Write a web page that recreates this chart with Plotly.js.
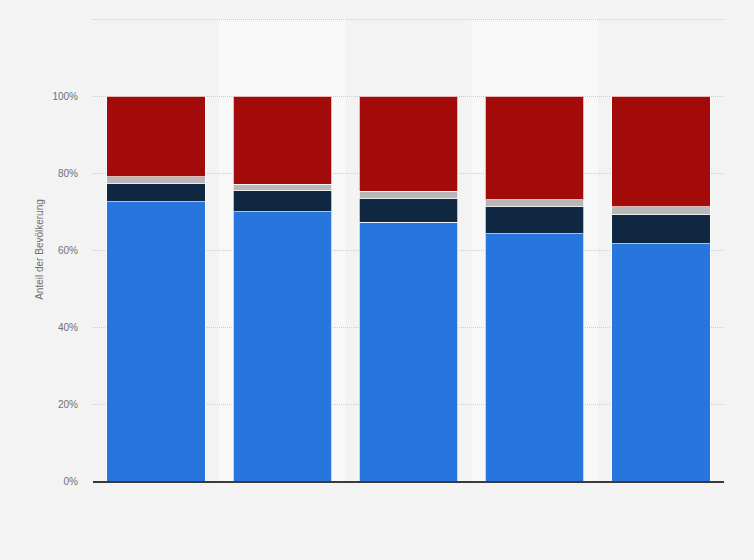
<!DOCTYPE html>
<html>
<head>
<meta charset="utf-8">
<script src="https://cdn.plot.ly/plotly-3.0.1.min.js"></script>
<style>html,body{margin:0;padding:0;background:#f3f3f3;}#chart{width:754px;height:560px;}</style>
</head>
<body>
<div id="chart"></div>
<script>
const categories = ['1', '2', '3', '4', '5'];
const seriesBlue = [72.6, 69.9, 67.2, 64.3, 61.7];
const seriesNavy = [4.7, 5.6, 6.2, 7.0, 7.6];
const seriesGray = [1.7, 1.6, 1.9, 1.8, 2.0];
const seriesRed = [21.0, 22.9, 24.7, 26.9, 28.7];
const tickValues = [0, 20, 40, 60, 80, 100, 120];
const tickLabels = ['0%', '20%', '40%', '60%', '80%', '100%', ''];

const colors = ['#2876dd', '#0f2740', '#b8b8b8', '#a30a0a'];
const series = [seriesBlue, seriesNavy, seriesGray, seriesRed];
const traces = series.map((vals, i) => ({
  type: 'bar',
  x: categories,
  y: vals,
  marker: {color: colors[i], line: {color: 'rgba(255,255,255,0.7)', width: 1}},
  hoverinfo: 'y',
  showlegend: false
}));

const shapes = [1, 3].map(i => ({
  type: 'rect', xref: 'x', yref: 'paper',
  x0: i - 0.5, x1: i + 0.5, y0: 0, y1: 1,
  fillcolor: '#f8f8f8', line: {width: 0}, layer: 'below'
}));

const layout = {
  width: 754, height: 560,
  paper_bgcolor: '#f3f3f3',
  plot_bgcolor: 'rgba(0,0,0,0)',
  barmode: 'stack',
  bargap: 0.22,
  margin: {l: 93, r: 30, t: 18, b: 79},
  shapes: shapes,
  xaxis: {
    type: 'category',
    showticklabels: false,
    showgrid: false,
    zeroline: false,
    showline: true,
    linecolor: '#3a3a3a',
    linewidth: 1.5,
    ticks: '',
    fixedrange: true
  },
  yaxis: {
    range: [0, 120.3],
    tickvals: tickValues,
    ticktext: tickLabels,
    showgrid: true,
    gridcolor: '#cccccc',
    griddash: '1px,1px',
    gridwidth: 1,
    zeroline: false,
    showline: false,
    ticks: 'outside',
    ticklen: 12,
    tickcolor: 'rgba(0,0,0,0)',
    tickfont: {family: 'Liberation Sans, Arial, sans-serif', size: 10, color: '#707070'},
    title: {text: 'Anteil der Bevölkerung', standoff: 6,
            font: {family: 'Liberation Sans, Arial, sans-serif', size: 10, color: '#707070'}},
    fixedrange: true
  }
};

Plotly.newPlot('chart', traces, layout, {displayModeBar: false, staticPlot: true});
</script>
</body>
</html>
